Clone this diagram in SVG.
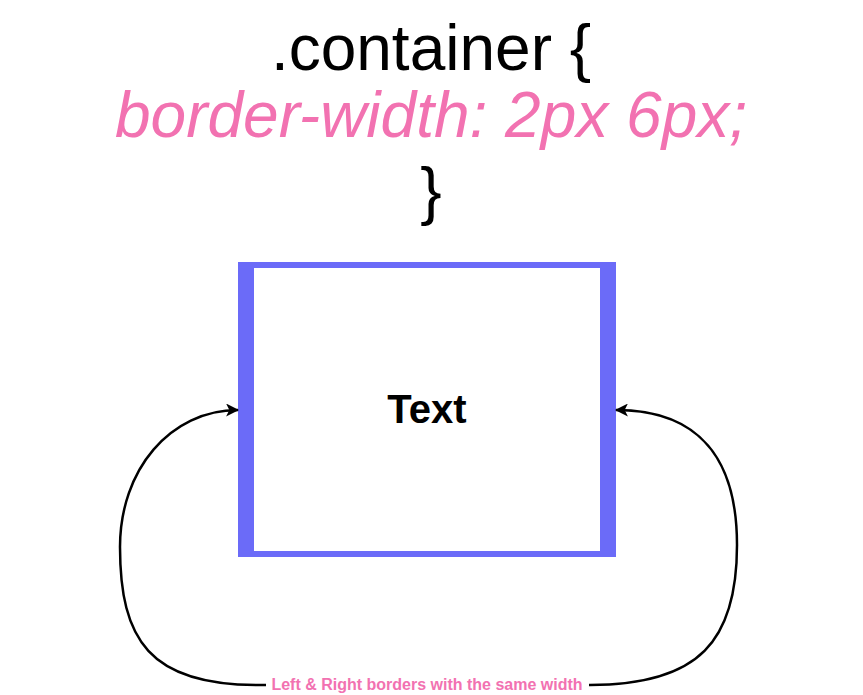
<svg xmlns="http://www.w3.org/2000/svg" width="863" height="695" viewBox="0 0 863 695">
<style>
.code{font-family:"Liberation Sans",Arial,sans-serif;font-size:64px;text-anchor:middle}
.blk{fill:#000}
.pink{fill:#f272b1;font-style:italic}
.lbl{font-family:"Liberation Sans",Arial,sans-serif;font-size:16px;font-weight:bold;fill:#f272b1;text-anchor:middle}
.conn{fill:none;stroke:#000;stroke-width:2.5}
</style>
<defs>
<marker id="ah" viewBox="0 0 12 12" refX="11" refY="6" markerWidth="13" markerHeight="13" markerUnits="userSpaceOnUse" orient="auto">
<path d="M0,0 L12,6 L0,12 L3,6 Z" fill="#000"/>
</marker>
</defs>
<rect width="863" height="695" fill="#fff"/>
<g id="title">
<text class="code blk" x="431" y="70">.container {</text>
<text class="code pink" x="431" y="137">border-width: 2px 6px;</text>
<text class="code blk" x="431" y="213">}</text>
</g>
<g id="box">
<rect x="238" y="262" width="378" height="295" fill="#6b6bf8"/>
<rect x="254" y="268" width="346" height="283" fill="#fff"/>
<text x="427" y="423" font-family="Liberation Sans,Arial,sans-serif" font-size="40" font-weight="bold" text-anchor="middle" fill="#000">Text</text>
</g>
<g id="connectors">
<path class="conn" d="M 266 685 L 257 685 C 150 685, 120 640, 120 547 C 120 470, 170 410, 238 410" marker-end="url(#ah)"/>
<path class="conn" d="M 589 685 L 590 685 C 700 685, 737 640, 737 545 C 737 460, 700 410, 616 410" marker-end="url(#ah)"/>
</g>
<g id="label">
<text class="lbl" x="427" y="690">Left &amp; Right borders with the same width</text>
</g>
</svg>
